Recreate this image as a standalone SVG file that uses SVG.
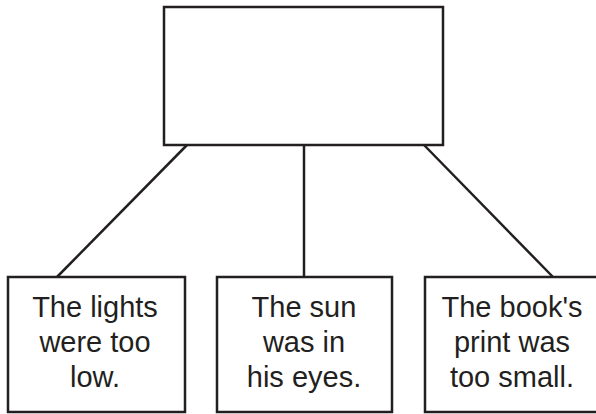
<svg xmlns="http://www.w3.org/2000/svg" width="596" height="414" viewBox="0 0 596 414">
<style>
.box{fill:#fff;stroke:#231f20;stroke-width:2.5}
.ln{stroke:#231f20;stroke-width:2.5;fill:none}
text{font-family:"Liberation Sans",Arial,sans-serif;font-size:29px;fill:#231f20;text-anchor:middle}
</style>
<rect width="596" height="414" fill="#fff"/>
<g id="connectors">
<line class="ln" x1="187" y1="145" x2="57" y2="277"/>
<line class="ln" x1="304" y1="145" x2="304" y2="277"/>
<line class="ln" x1="424" y1="145" x2="553" y2="277"/>
</g>
<g id="top"><rect class="box" x="164" y="7" width="279" height="138"/></g>
<g id="left"><rect class="box" x="8" y="277" width="177" height="135"/>
<text x="95" y="317">The lights</text><text x="95" y="352">were too</text><text x="95" y="387">low.</text></g>
<g id="middle"><rect class="box" x="217" y="277" width="175" height="135"/>
<text x="304" y="317">The sun</text><text x="304" y="352">was in</text><text x="304" y="387">his eyes.</text></g>
<g id="right"><rect class="box" x="425" y="277" width="175" height="135"/>
<text x="512" y="317">The book's</text><text x="512" y="352">print was</text><text x="512" y="387">too small.</text></g>
</svg>
